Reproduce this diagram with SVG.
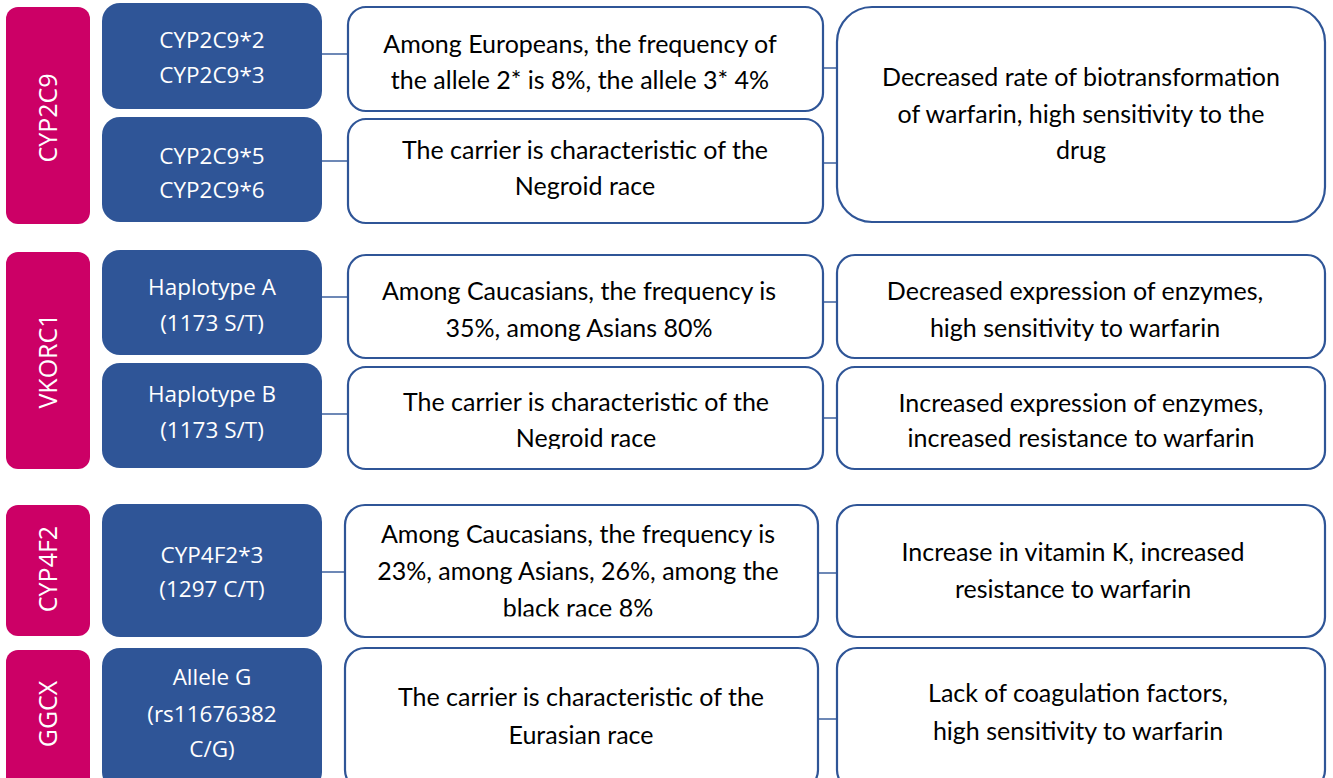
<svg xmlns="http://www.w3.org/2000/svg" width="1333" height="778" viewBox="0 0 1333 778">
<defs>
<style>
.gene{fill:#CC0066;}
.var{fill:#2F5597;}
.box{fill:#FFFFFF;stroke:#2F5597;stroke-width:2.2;}
.conn{stroke:#2F5597;stroke-width:1.4;fill:none;}
.gt{font-family:"Open Sans","Liberation Sans",sans-serif;font-size:25px;fill:#FFFFFF;text-anchor:middle;}
.vt{font-family:"Open Sans","Liberation Sans",sans-serif;font-size:22.5px;fill:#FFFFFF;text-anchor:middle;}
.bt{font-family:Lato,"Liberation Sans",sans-serif;font-size:25px;fill:#000000;text-anchor:middle;}
</style>
<clipPath id="clipA"><rect x="348" y="367" width="476" height="82"/></clipPath>
<clipPath id="clipB"><rect x="345" y="505" width="474" height="111.5"/></clipPath>
</defs>
<rect width="1333" height="778" fill="#FFFFFF"/>

<g id="connectors">
<line class="conn" x1="322" y1="54" x2="349" y2="54"/>
<line class="conn" x1="322" y1="161" x2="349" y2="161"/>
<line class="conn" x1="823" y1="68" x2="838" y2="68"/>
<line class="conn" x1="823" y1="163" x2="838" y2="163"/>
<line class="conn" x1="322" y1="297" x2="349" y2="297"/>
<line class="conn" x1="322" y1="414" x2="349" y2="414"/>
<line class="conn" x1="823" y1="302" x2="838" y2="302"/>
<line class="conn" x1="823" y1="418" x2="838" y2="418"/>
<line class="conn" x1="322" y1="572" x2="346" y2="572"/>
<line class="conn" x1="818" y1="573" x2="838" y2="573"/>
<line class="conn" x1="818" y1="719" x2="838" y2="719"/>
</g>

<g id="gene-cyp2c9"><rect class="gene" x="6" y="7" width="84" height="217" rx="12"/><text class="gt" transform="translate(57,118) rotate(-90)">CYP2C9</text></g>
<g id="gene-vkorc1"><rect class="gene" x="6" y="252" width="84" height="217" rx="12"/><text class="gt" transform="translate(57,361) rotate(-90)">VKORC1</text></g>
<g id="gene-cyp4f2"><rect class="gene" x="6" y="505" width="84" height="131" rx="12"/><text class="gt" transform="translate(57,569) rotate(-90)">CYP4F2</text></g>
<g id="gene-ggcx"><rect class="gene" x="6" y="650" width="84" height="140" rx="12"/><text class="gt" transform="translate(57,714) rotate(-90)">GGCX</text></g>

<g id="var-cyp2c9-23"><rect class="var" x="102" y="3" width="220" height="106" rx="18"/><text class="vt" x="212" y="48">CYP2C9*2</text><text class="vt" x="212" y="83">CYP2C9*3</text></g>
<g id="var-cyp2c9-56"><rect class="var" x="102" y="117" width="220" height="105" rx="18"/><text class="vt" x="212" y="164">CYP2C9*5</text><text class="vt" x="212" y="198">CYP2C9*6</text></g>
<g id="var-hapA"><rect class="var" x="102" y="250" width="220" height="105" rx="18"/><text class="vt" x="212" y="295">Haplotype A</text><text class="vt" x="212" y="331">(1173 S/T)</text></g>
<g id="var-hapB"><rect class="var" x="102" y="363" width="220" height="105" rx="18"/><text class="vt" x="212" y="402">Haplotype B</text><text class="vt" x="212" y="438">(1173 S/T)</text></g>
<g id="var-cyp4f2"><rect class="var" x="102" y="504" width="220" height="133" rx="18"/><text class="vt" x="212" y="563">CYP4F2*3</text><text class="vt" x="212" y="597">(1297 C/T)</text></g>
<g id="var-ggcx"><rect class="var" x="102" y="648" width="220" height="142" rx="18"/><text class="vt" x="212" y="685">Allele G</text><text class="vt" x="212" y="722">(rs11676382</text><text class="vt" x="212" y="757">C/G)</text></g>

<g id="freq-eu"><rect class="box" x="348" y="7" width="475" height="104" rx="18"/><text class="bt" x="580" y="53">Among Europeans, the frequency of</text><text class="bt" x="580" y="89">the allele 2* is 8%, the allele 3* 4%</text></g>
<g id="freq-negroid1"><rect class="box" x="348" y="119" width="475" height="104" rx="18"/><text class="bt" x="585" y="159">The carrier is characteristic of the</text><text class="bt" x="585" y="195">Negroid race</text></g>
<g id="effect-cyp2c9"><rect class="box" x="837" y="7" width="488" height="215" rx="35"/><text class="bt" x="1081" y="86">Decreased rate of biotransformation</text><text class="bt" x="1081" y="123">of warfarin, high sensitivity to the</text><text class="bt" x="1081" y="159">drug</text></g>

<g id="freq-cauc1"><rect class="box" x="348" y="255" width="475" height="103" rx="18"/><text class="bt" x="579" y="300">Among Caucasians, the frequency is</text><text class="bt" x="579" y="337">35%, among Asians 80%</text></g>
<g id="freq-negroid2"><rect class="box" x="348" y="367" width="475" height="102" rx="18"/><g clip-path="url(#clipA)"><text class="bt" x="586" y="411">The carrier is characteristic of the</text><text class="bt" x="586" y="447">Negroid race</text></g></g>
<g id="effect-hapA"><rect class="box" x="837" y="255" width="488" height="103" rx="18"/><text class="bt" x="1075" y="300">Decreased expression of enzymes,</text><text class="bt" x="1075" y="337">high sensitivity to warfarin</text></g>
<g id="effect-hapB"><rect class="box" x="837" y="367" width="488" height="102" rx="18"/><text class="bt" x="1081" y="412">Increased expression of enzymes,</text><text class="bt" x="1081" y="447">increased resistance to warfarin</text></g>

<g id="freq-cauc2"><rect class="box" x="345" y="505" width="473" height="132" rx="20"/><g clip-path="url(#clipB)"><text class="bt" x="578" y="543">Among Caucasians, the frequency is</text><text class="bt" x="578" y="580">23%, among Asians, 26%, among the</text><text class="bt" x="578" y="617">black race 8%</text></g></g>
<g id="freq-eurasian"><rect class="box" x="345" y="648" width="473" height="142" rx="20"/><text class="bt" x="581" y="706">The carrier is characteristic of the</text><text class="bt" x="581" y="744">Eurasian race</text></g>
<g id="effect-cyp4f2"><rect class="box" x="837" y="505" width="488" height="132" rx="20"/><text class="bt" x="1073" y="561">Increase in vitamin K, increased</text><text class="bt" x="1073" y="598">resistance to warfarin</text></g>
<g id="effect-ggcx"><rect class="box" x="837" y="648" width="488" height="142" rx="20"/><text class="bt" x="1078" y="702">Lack of coagulation factors,</text><text class="bt" x="1078" y="740">high sensitivity to warfarin</text></g>
</svg>
